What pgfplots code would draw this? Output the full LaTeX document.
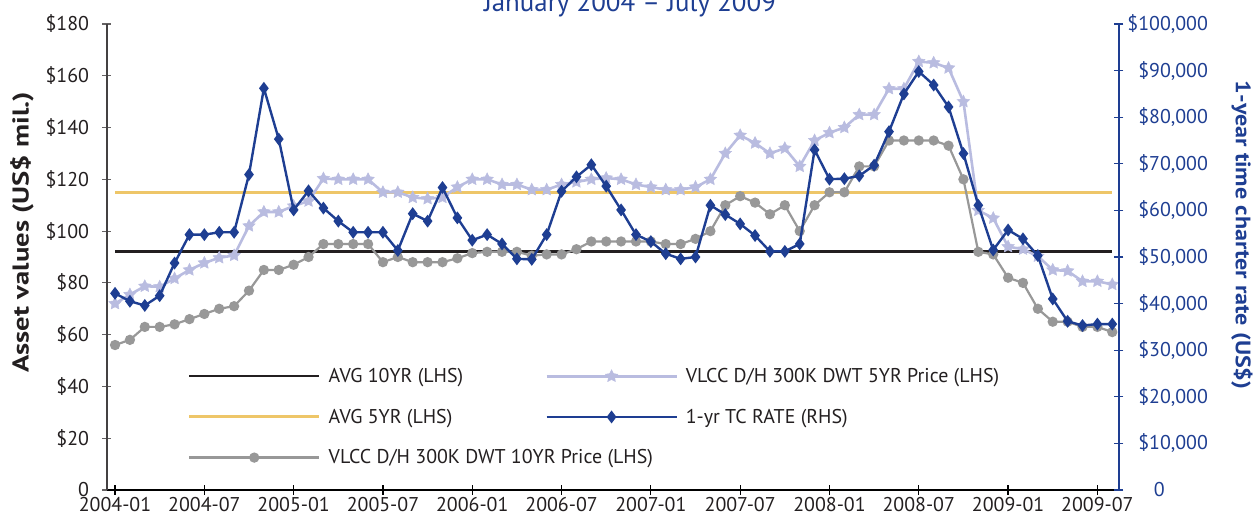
\documentclass[border=0pt]{standalone}
\usepackage{pgfplots}
\usepackage{pgfplotstable}
\pgfplotsset{compat=1.18}
\usepackage{fontspec}
\setmainfont{PT Sans}
\newfontfamily\labfont{PT Sans}[FakeStretch=1.25]
\newfontfamily\labfontr{PT Sans}[FakeStretch=1.15]
\usetikzlibrary{plotmarks}
\definecolor{tcblue}{RGB}{30,62,146}
\definecolor{lav}{RGB}{185,188,224}
\definecolor{grayp}{RGB}{152,152,152}
\definecolor{avgy}{RGB}{238,198,104}
\definecolor{txt}{RGB}{35,31,32}

\pgfdeclareplotmark{fstar}{%
 \pgfpathmoveto{\pgfpointpolar{90}{\pgfplotmarksize}}%
 \pgfpathlineto{\pgfpointpolar{126}{0.5\pgfplotmarksize}}%
 \pgfpathlineto{\pgfpointpolar{162}{\pgfplotmarksize}}%
 \pgfpathlineto{\pgfpointpolar{198}{0.5\pgfplotmarksize}}%
 \pgfpathlineto{\pgfpointpolar{234}{\pgfplotmarksize}}%
 \pgfpathlineto{\pgfpointpolar{270}{0.5\pgfplotmarksize}}%
 \pgfpathlineto{\pgfpointpolar{306}{\pgfplotmarksize}}%
 \pgfpathlineto{\pgfpointpolar{342}{0.5\pgfplotmarksize}}%
 \pgfpathlineto{\pgfpointpolar{18}{\pgfplotmarksize}}%
 \pgfpathlineto{\pgfpointpolar{54}{0.5\pgfplotmarksize}}%
 \pgfpathclose\pgfusepathqfillstroke}

\pgfplotstableread{
idx ten five tc
0 56 72 42200
1 58 75.5 40500
2 63 78.7 39600
3 63 78.5 41700
4 64 81.7 48700
5 66 85 54800
6 68 87.7 54800
7 70 89.7 55300
8 71 90.6 55300
9 77 102 67700
10 85 107.4 86200
11 85 107.4 75300
12 87 109.7 60100
13 90 111.6 64200
14 95 120.3 60500
15 95 120 57700
16 95 120 55300
17 95 120 55300
18 88 115 55300
19 90 115 51400
20 88 113 59300
21 88 112.5 57700
22 88 113 64900
23 89.5 117 58400
24 91.5 120 53600
25 92 120 54800
26 92 118 52800
27 92 118 49600
28 90.5 116 49500
29 91 116 54800
30 91 118 64100
31 93 119 67200
32 96 120 69800
33 96 120.5 65200
34 96 120 60100
35 96 118 54800
36 96 117 53300
37 95 116 50700
38 95 116 49600
39 97 117 50000
40 100 120 61100
41 110 130 59100
42 113.5 137 57100
43 111 134 54600
44 106.5 130 51200
45 110 132 51200
46 100 125 52800
47 110 135 73000
48 115 138 66700
49 115 140 66800
50 125 145 67400
51 125 145 69700
52 135 155 76900
53 135 155 85000
54 135 165.5 89800
55 135 165 86900
56 133 163 82200
57 120 150 72200
58 92 108 61100
59 91 105 51500
60 82 94 55800
61 80 93 53900
62 70 90.3 50300
63 65 85 41000
64 65 84.6 36200
65 63 80.6 35300
66 63 80.6 35600
67 61 79.4 35600
}\datatable

\pgfplotstableread{
x avgten avgfive
0 92.1 115
67 92.1 115
}\avgtable

\begin{document}
\begin{tikzpicture}
\pgfplotsset{
  base/.style={
    scale only axis, width=1012bp, height=466bp,
    xmin=-0.54, xmax=67.45,
    tick align=outside, major tick length=9bp,
    every tick label/.append style={font=\fontsize{20}{23}\selectfont},
    clip=false,
  },
}
\begin{axis}[base,
  ymin=0, ymax=180,
  axis x line=bottom, axis y line=left,
  axis line style={line width=1.6bp, -},
  x axis line style={black},
  y axis line style={txt!85},
  xtick={0,6,...,66},
  xticklabels={2004-01,2004-07,2005-01,2005-07,2006-01,2006-07,2007-01,2007-07,2008-01,2008-07,2009-01,2009-07},
  ytick={0,20,...,180},
  yticklabels={0,\$20,\$40,\$60,\$80,\$100,\$120,\$140,\$160,\$180},
  x tick style={black, line width=1.2bp},
  y tick style={txt!70, line width=1.2bp},
  x tick label style={text=txt, yshift=1bp},
  y tick label style={text=txt, xshift=-10bp},
  ylabel style={at={(axis description cs:-0.084,0.553)}, rotate=0, anchor=center},
  ylabel={\fontsize{23}{26}\selectfont\labfont\bfseries\color{txt}Asset values (US\$ mil.)},
  legend image code/.code={\draw[mark repeat=2,mark phase=2,#1] plot coordinates {(0bp,0bp) (65bp,0bp) (130bp,0bp)};},
  transpose legend, legend columns=3,
  legend cell align=left,
  legend style={at={(axis description cs:0.0796,0.048)}, anchor=south west, draw=none, fill=none,
     font=\fontsize{20}{23}\selectfont, text=txt, inner sep=0pt,
     column sep=6bp, row sep=21bp,
     /tikz/every even column/.append style={column sep=80bp}},
]
\addplot[txt, line width=2.4bp] table[x=x, y=avgten] {\avgtable};
\addlegendentry{AVG 10YR (LHS)}
\addplot[avgy, line width=3bp] table[x=x, y=avgfive] {\avgtable};
\addlegendentry{AVG 5YR (LHS)}
\addplot[grayp, line width=2.2bp, mark=*, mark size=4bp, mark options={fill=grayp, draw=grayp}] table[x=idx, y=ten] {\datatable};
\addlegendentry{\makebox[0pt][l]{VLCC D/H 300K DWT 10YR Price (LHS)}}
\addplot[lav, line width=2.6bp, mark=fstar, mark size=6.5bp, mark options={fill=lav, draw=lav, line width=0.5bp}] table[x=idx, y=five] {\datatable};
\addlegendentry{VLCC D/H 300K DWT 5YR Price (LHS)}
\addlegendimage{tcblue, line width=2.4bp, mark=diamond*, mark size=4.5bp, mark options={fill=tcblue, draw=tcblue}}
\addlegendentry{1-yr TC RATE (RHS)}
\end{axis}
\begin{axis}[base,
  ymin=0, ymax=100000,
  axis x line=none, axis y line=right,
  axis line style={line width=1.8bp, tcblue, -},
  ytick={0,10000,...,100000},
  yticklabels={\makebox[54bp][l]{0},\$10{,}000,\$20{,}000,\$30{,}000,\$40{,}000,\$50{,}000,\$60{,}000,\$70{,}000,\$80{,}000,\$90{,}000,\$100{,}000},
  y tick style={tcblue, line width=1.2bp},
  y tick label style={text=tcblue, anchor=east, xshift=88bp},
  ylabel style={at={(axis description cs:1.1215,0.547)}, rotate=180, anchor=center},
  ylabel={\fontsize{21}{24}\selectfont\labfontr\bfseries\color{tcblue}1-year time charter rate (US\$)},
]
\addplot[tcblue, line width=2.4bp, mark=diamond*, mark size=4.5bp, mark options={fill=tcblue, draw=tcblue}] table[x=idx, y=tc] {\datatable};
\end{axis}
\node[anchor=base, text=tcblue, font=\fontsize{27}{30}\selectfont] at (523bp,478bp) {January 2004 – July 2009};
\pgfresetboundingbox
\useasboundingbox (-107bp,-35bp) rectangle (1151bp,490bp);
\end{tikzpicture}
\end{document}
